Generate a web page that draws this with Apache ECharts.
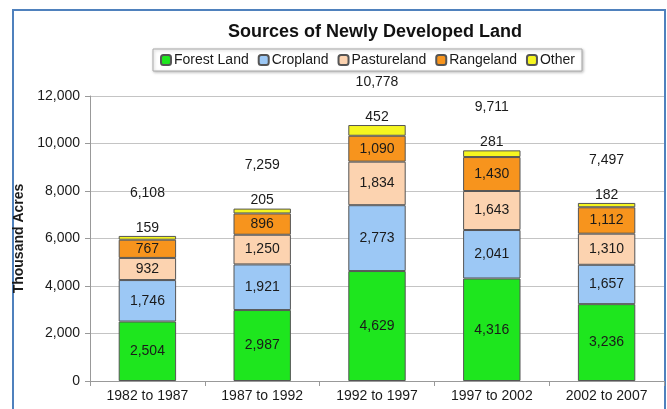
<!DOCTYPE html>
<html>
<head>
<meta charset="utf-8">
<script src="https://cdn.jsdelivr.net/npm/echarts@6/dist/echarts.min.js"></script>
<style>
  html, body { margin: 0; padding: 0; background: #fff; }
  #chart { width: 667px; height: 409px; }
</style>
</head>
<body>
<div id="chart"></div>
<script>
// periods on the x axis
var periods = ["1982 to 1987", "1987 to 1992", "1992 to 1997", "1997 to 2002", "2002 to 2007"];
// thousand acres by source
var forestLand = [2504, 2987, 4629, 4316, 3236];
var cropland = [1746, 1921, 2773, 2041, 1657];
var pastureland = [932, 1250, 1834, 1643, 1310];
var rangeland = [767, 896, 1090, 1430, 1112];
var other = [159, 205, 452, 281, 182];
var totals = [6108, 7259, 10778, 9711, 7497];
var yTicks = [0, 2000, 4000, 6000, 8000, 10000, 12000];

var chart = echarts.init(document.getElementById("chart"));
var fontFam = "Liberation Sans, Arial, sans-serif";
var fmt = function (v) { return Number(v).toLocaleString("en-US"); };

function seg(name, data, color, labelPos) {
  return {
    name: name,
    type: "bar",
    stack: "land",
    barWidth: "50%",
    data: data,
    itemStyle: { color: color, borderColor: "#555", borderWidth: 1 },
    label: {
      show: true,
      position: labelPos || "inside",
      distance: 1,
      color: "#1a1a1a",
      fontSize: 14,
      fontFamily: fontFam,
      formatter: function (p) { return fmt(p.value); }
    }
  };
}

var option = {
  animation: false,
  textStyle: { fontFamily: fontFam },
  title: {
    text: "Sources of Newly Developed Land",
    left: 370,
    textAlign: "center",
    top: 18,
    textStyle: { fontSize: 18, fontWeight: "bold", color: "#111", fontFamily: fontFam }
  },
  legend: {
    data: ["Forest Land", "Cropland", "Pastureland", "Rangeland", "Other"],
    left: 153,
    top: 49,
    itemWidth: 10,
    itemHeight: 10,
    itemGap: 9,
    padding: [4, 7],
    borderColor: "#aaa",
    borderWidth: 1,
    shadowColor: "rgba(0,0,0,0.25)",
    shadowBlur: 3,
    shadowOffsetX: 1,
    shadowOffsetY: 1,
    backgroundColor: "#fff",
    textStyle: { fontSize: 14, color: "#1a1a1a", padding: [0, 0, 0, -2] }
  },
  grid: { left: 90, right: 3, top: 96, bottom: 28 },
  xAxis: {
    type: "category",
    data: periods,
    axisLine: { lineStyle: { color: "#999" } },
    axisTick: { show: true, lineStyle: { color: "#999" } },
    axisLabel: { fontSize: 14, color: "#1a1a1a", margin: 8 }
  },
  yAxis: {
    type: "value",
    min: yTicks[0],
    max: yTicks[yTicks.length - 1],
    interval: 2000,
    name: "Thousand Acres",
    nameLocation: "middle",
    nameGap: 53,
    nameTextStyle: { fontSize: 14, fontWeight: "bold", color: "#1a1a1a" },
    axisLine: { show: true, lineStyle: { color: "#999" } },
    axisTick: { show: true, length: 5, lineStyle: { color: "#999" } },
    axisLabel: { fontSize: 14, color: "#1a1a1a", margin: 10, formatter: fmt },
    splitLine: { lineStyle: { color: "#c4c4c4" } }
  },
  graphic: [{
    type: "rect",
    shape: { x: 13, y: 10, width: 652, height: 420 },
    style: { fill: null, stroke: "#4f81bd", lineWidth: 2 },
    silent: true
  }],
  series: [
    seg("Forest Land", forestLand, "#1ee61e"),
    seg("Cropland", cropland, "#9cc8f5"),
    seg("Pastureland", pastureland, "#fcd3b0"),
    seg("Rangeland", rangeland, "#f7941d"),
    seg("Other", other, "#f5f520", "top"),
    {
      name: "Total",
      type: "scatter",
      data: totals,
      symbolSize: 0,
      silent: true,
      itemStyle: { opacity: 1 },
      label: {
        show: true,
        position: "top",
        distance: 36,
        color: "#1a1a1a",
        opacity: 1,
        fontSize: 14,
        fontFamily: fontFam,
        formatter: function (p) { return fmt(p.value); }
      }
    }
  ]
};
chart.setOption(option);
</script>
</body>
</html>
